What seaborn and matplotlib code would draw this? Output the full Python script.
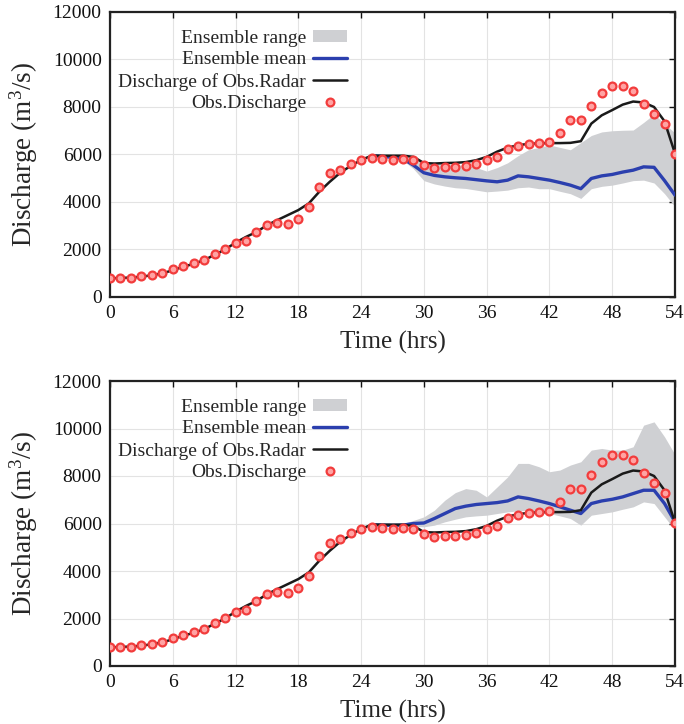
import numpy as np
import pandas as pd
import matplotlib
matplotlib.use("Agg")
import matplotlib.pyplot as plt
import seaborn as sns
from matplotlib.patches import Patch
from matplotlib.lines import Line2D

# ---------------- data ----------------
hours = list(range(0, 55))
obs_discharge = [780, 790, 820, 870, 920, 1000, 1160, 1290, 1420, 1550,
                 1800, 2020, 2290, 2360, 2730, 3050, 3120, 3090, 3290, 3790,
                 4630, 5200, 5340, 5590, 5770, 5860, 5800, 5760, 5790, 5760,
                 5570, 5450, 5480, 5480, 5520, 5620, 5750, 5910, 6250, 6370,
                 6450, 6500, 6530, 6910, 7450, 7450, 8030, 8610, 8890, 8890,
                 8680, 8140, 7720, 7300, 6040]
radar_discharge = [790, 800, 820, 850, 920, 990, 1130, 1270, 1400, 1550,
                   1780, 2000, 2290, 2530, 2740, 3020, 3240, 3450, 3660, 3940,
                   4430, 4850, 5230, 5520, 5770, 5950, 5950, 5950, 5950, 5900,
                   5640, 5620, 5640, 5650, 5680, 5760, 5900, 6120, 6290, 6390,
                   6450, 6470, 6480, 6480, 6490, 6560, 7300, 7650, 7870, 8100,
                   8230, 8190, 8000, 7400, 6040]

ens_hours = list(range(25, 55))
# top panel ensemble
top_mean = [5950, 5920, 5880, 5820, 5550, 5230, 5120, 5060, 5020, 4990,
            4940, 4890, 4850, 4920, 5100, 5060, 4990, 4920, 4820, 4710,
            4560, 4990, 5100, 5160, 5260, 5340, 5480, 5460, 4900, 4290]
top_low = [5950, 5900, 5850, 5750, 5400, 4900, 4760, 4670, 4600, 4570,
           4500, 4430, 4460, 4500, 4600, 4630, 4560, 4560, 4450, 4350,
           4150, 4560, 4660, 4710, 4800, 4900, 4920, 4800, 4350, 3800]
top_high = [5950, 5950, 5950, 5900, 5800, 5650, 5650, 5600, 5570, 5540,
            5450, 5300, 5450, 5650, 5950, 6200, 6300, 6400, 6300, 6200,
            6500, 6800, 6950, 7000, 7020, 7030, 7350, 7700, 7300, 6900]
# bottom panel ensemble
bot_mean = [5950, 5930, 5920, 5930, 6000, 6020, 6210, 6420, 6630, 6730,
            6800, 6840, 6880, 6950, 7120, 7050, 6950, 6840, 6700, 6560,
            6420, 6840, 6950, 7020, 7120, 7260, 7400, 7400, 6840, 6070]
bot_low = [5950, 5900, 5880, 5880, 5880, 5860, 5930, 6070, 6180, 6280,
           6320, 6350, 6420, 6490, 6530, 6560, 6500, 6420, 6320, 6210,
           5930, 6350, 6420, 6490, 6600, 6700, 6910, 6840, 6280, 5720]
bot_high = [5950, 5950, 5980, 6000, 6130, 6280, 6560, 6980, 7300, 7470,
            7400, 7120, 7540, 7960, 8530, 8530, 8390, 8180, 8250, 8460,
            8600, 9090, 9160, 9090, 9090, 9230, 10140, 10280, 9650, 8900]

x_ticks = [0, 6, 12, 18, 24, 30, 36, 42, 48, 54]
y_ticks = [0, 2000, 4000, 6000, 8000, 10000, 12000]

legend_labels = ["Ensemble range", "Ensemble mean",
                 "Discharge of Obs.Radar", "Obs.Discharge"]

# ---------------- style ----------------
sns.set_style("white")
plt.rcParams["font.family"] = ["Liberation Serif", "DejaVu Serif"]
plt.rcParams["mathtext.fontset"] = "custom"
plt.rcParams["mathtext.rm"] = "Liberation Serif"
plt.rcParams["mathtext.it"] = "Liberation Serif:italic"

obs_df = pd.DataFrame({"t": hours, "q": obs_discharge})
radar_df = pd.DataFrame({"t": hours, "q": radar_discharge})

fig = plt.figure(figsize=(6.84, 7.24), dpi=100)
ax_top = fig.add_axes([110 / 684, 1 - 297 / 724, 565 / 684, 285 / 724])
ax_bot = fig.add_axes([110 / 684, 1 - 666 / 724, 565 / 684, 285 / 724])

fill_color = "#cfd0d3"
blue = "#2b3fae"
red_edge = "#f23c3c"
red_face = "#ffa3a3"

panels = [(ax_top, top_mean, top_low, top_high),
          (ax_bot, bot_mean, bot_low, bot_high)]

for ax, mean, low, high in panels:
    ax.grid(True, color="#e3e3e3", linewidth=0.8)
    ax.fill_between(ens_hours, low, high, color=fill_color, linewidth=0,
                    zorder=1)
    ens_df = pd.DataFrame({"t": ens_hours, "q": mean})
    sns.lineplot(data=ens_df, x="t", y="q", ax=ax, color=blue, linewidth=2.4,
                 zorder=3)
    sns.lineplot(data=radar_df, x="t", y="q", ax=ax, color="#1a1a1a",
                 linewidth=1.8, zorder=4)
    sns.scatterplot(data=obs_df, x="t", y="q", ax=ax, s=32, marker="o",
                    facecolor=red_face, edgecolor=red_edge, linewidth=1.6,
                    zorder=5)

    ax.set_xlim(0, 54)
    ax.set_ylim(0, 12000)
    ax.set_xticks(x_ticks)
    ax.set_yticks(y_ticks)
    ax.set_xticklabels([str(v) for v in x_ticks])
    ax.set_yticklabels([str(v) for v in y_ticks])
    ax.tick_params(direction="in", length=4, width=1.0, top=True, right=True,
                   labelsize=14, pad=6, colors="#111111")
    ax.tick_params(axis="x", pad=6)
    for sp in ax.spines.values():
        sp.set_visible(True)
        sp.set_color("#222222")
        sp.set_linewidth(1.6)
    ax.set_xlabel("Time (hrs)", fontsize=18, labelpad=6)
    ax.set_ylabel("Discharge (m$^3$/s)", fontsize=19.5, labelpad=9)

    handles = [
        Patch(facecolor=fill_color, edgecolor="none"),
        Line2D([], [], color=blue, linewidth=2.4),
        Line2D([], [], color="#1a1a1a", linewidth=1.8),
        Line2D([], [], linestyle="none", marker="o", markersize=5.6,
               markerfacecolor=red_face, markeredgecolor=red_edge,
               markeredgewidth=1.6),
    ]
    ax.legend(handles, legend_labels, loc="upper right",
              bbox_to_anchor=(0.419, 0.937), frameon=False, markerfirst=False,
              fontsize=14, handlelength=1.75, handleheight=0.6,
              handletextpad=0.35, labelspacing=0.23, borderpad=0,
              borderaxespad=0)

fig.savefig("out.png", dpi=100)
